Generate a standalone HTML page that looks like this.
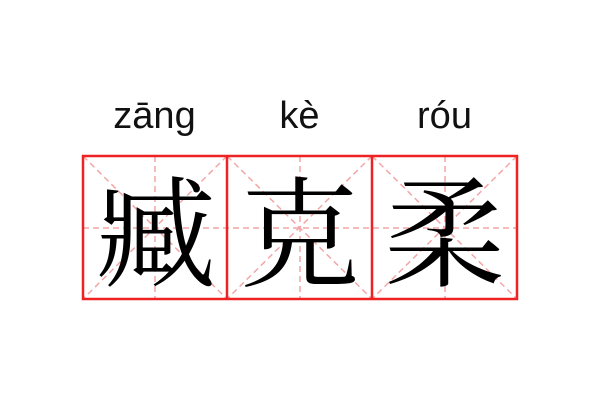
<!DOCTYPE html>
<html><head><meta charset="utf-8"><style>
html,body{margin:0;padding:0;background:#fff;width:600px;height:400px;overflow:hidden;position:relative}
.py{position:absolute;top:95px;font-family:"Liberation Sans","DejaVu Sans",sans-serif;font-size:38px;color:#111;text-align:center;width:145px}
.ch{position:absolute;top:156px;width:145px;height:140px;text-align:center;font-family:"Noto Serif CJK SC","WenQuanYi Zen Hei",serif;font-size:120px;line-height:140px;color:#000}
</style></head><body>
<svg width="600" height="400" style="position:absolute;left:0;top:0">
<g stroke="#f4a6a6" stroke-width="1.5" stroke-dasharray="6,4" fill="none">
<line x1="83" y1="228" x2="517" y2="228"/>
<line x1="155" y1="156" x2="155" y2="299"/>
<line x1="300" y1="156" x2="300" y2="299"/>
<line x1="445" y1="156" x2="445" y2="299"/>
<line x1="83" y1="156" x2="227" y2="299"/><line x1="227" y1="156" x2="83" y2="299"/>
<line x1="227" y1="156" x2="372" y2="299"/><line x1="372" y1="156" x2="227" y2="299"/>
<line x1="372" y1="156" x2="517" y2="299"/><line x1="517" y1="156" x2="372" y2="299"/>
</g>
<g stroke="#ee2222" stroke-width="2.5" fill="none">
<rect x="83" y="156" width="434" height="143"/>
<line x1="227" y1="156" x2="227" y2="299"/>
<line x1="372" y1="156" x2="372" y2="299"/>
</g>
</svg>
<div class="py" style="left:82px">zāng</div>
<div class="py" style="left:227px">kè</div>
<div class="py" style="left:372px">róu</div>
<div class="ch" style="left:83px">臧</div>
<div class="ch" style="left:227px">克</div>
<div class="ch" style="left:372px">柔</div>
</body></html>
